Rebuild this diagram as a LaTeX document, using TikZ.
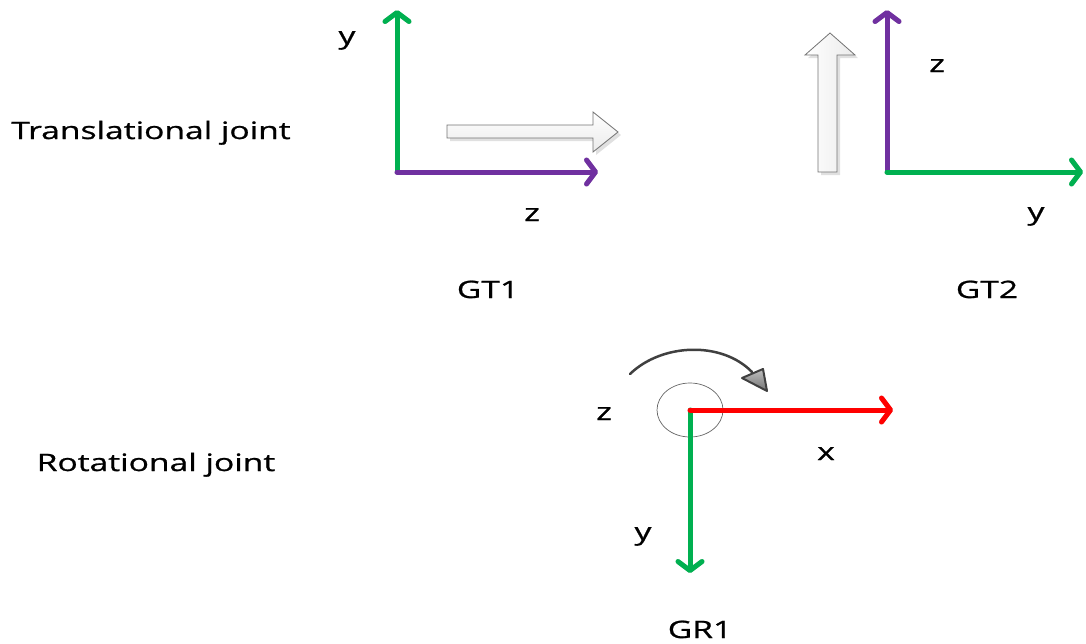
\documentclass[tikz,border=0pt]{standalone}
\usepackage{fontspec}
\setmainfont{Open Sans}[FakeStretch=1.4,FakeBold=0.9]
\usetikzlibrary{arrows.meta,shapes.geometric}

\definecolor{axgreen}{RGB}{0,176,80}
\definecolor{axpurple}{RGB}{112,48,160}
\definecolor{axred}{RGB}{255,0,0}
\definecolor{rotgray}{RGB}{64,64,64}

\tikzset{
  axis/.style={line width=5pt, line cap=round,
    -{Straight Barb[length=9pt,width=24pt,round]}},
  axshadow/.style={axis, draw=black!12, shift={(2.5,2.5)}},
  lbl/.style={anchor=base, inner sep=0pt, font=\fontsize{24}{27}\selectfont},
  blockarrow/.style={draw=black!55, line width=0.8pt, top color=white, bottom color=black!8},
  blockshadow/.style={fill=black!12, draw=none, shift={(3,3)}},
}

\begin{document}
\begin{tikzpicture}[x=1pt,y=-1pt]
  \useasboundingbox (0,0) rectangle (1086,643);

  % ---------- row labels ----------
  \node[lbl] (trans) at (151,139) {Translational joint};
  \node[lbl] (rot)   at (156,471) {Rotational joint};

  % ---------- GT1 frame ----------
  \coordinate (o1) at (397,172);
  \coordinate (y1) at (397,10);
  \coordinate (z1) at (598,172);
  \draw[axshadow] (o1) -- (y1);
  \draw[axshadow] (o1) -- (z1);
  \draw[axis, axgreen] (o1) -- (y1);
  \draw[axis, axpurple] (o1) -- (z1);
  % direction of travel
  \fill[blockshadow] (447,125) -- (593,125) -- (593,112) -- (618,132) -- (593,152) -- (593,138) -- (447,138) -- cycle;
  \draw[blockarrow] (447,125) -- (593,125) -- (593,112) -- (618,132) -- (593,152) -- (593,138) -- (447,138) -- cycle;
  \node[lbl] (ly1) at (347,44) {y};
  \node[lbl] (lz1) at (532,221) {z};
  \node[lbl] (gt1) at (488,298) {GT1};

  % ---------- GT2 frame ----------
  \coordinate (o2) at (887,172);
  \coordinate (z2) at (887,10);
  \coordinate (y2) at (1083,172);
  \draw[axshadow] (o2) -- (z2);
  \draw[axshadow] (o2) -- (y2);
  \draw[axis, axpurple] (o2) -- (z2);
  \draw[axis, axgreen] (o2) -- (y2);
  % direction of travel
  \fill[blockshadow] (818,172) -- (818,55) -- (805,55) -- (830,33) -- (855,55) -- (837,55) -- (837,172) -- cycle;
  \draw[blockarrow, left color=white, right color=black!8] (818,172) -- (818,55) -- (805,55) -- (830,33) -- (855,55) -- (837,55) -- (837,172) -- cycle;
  \node[lbl] (lz2) at (937,72) {z};
  \node[lbl] (ly2) at (1036,220) {y};
  \node[lbl] (gt2) at (987,298) {GT2};

  % ---------- GR1 frame ----------
  \coordinate (o3) at (690,410);
  \coordinate (x3) at (893,410);
  \coordinate (y3) at (690,573);
  \node[draw=black!60, line width=0.7pt, ellipse, minimum width=66pt, minimum height=54pt, inner sep=0pt] (hub) at (o3) {};
  \draw[axshadow] (o3) -- (x3);
  \draw[axshadow] (o3) -- (y3);
  \draw[axis, axgreen] (o3) -- (y3);
  \draw[axis, axred] (o3) -- (x3);
  % sense of rotation
  \draw[rotgray, line width=2.5pt, line cap=round] (630,374) .. controls (662,343) and (722,341) .. (752,372);
  \draw[rotgray, line width=2pt, line join=round, top color=black!25, bottom color=black!55] (742,378) -- (763,369) -- (767,391) -- cycle;
  \node[lbl] (lz3) at (604,420) {z};
  \node[lbl] (lx3) at (826,460) {x};
  \node[lbl] (ly3) at (643,540) {y};
  \node[lbl] (gr1) at (700,638) {GR1};
\end{tikzpicture}
\end{document}
